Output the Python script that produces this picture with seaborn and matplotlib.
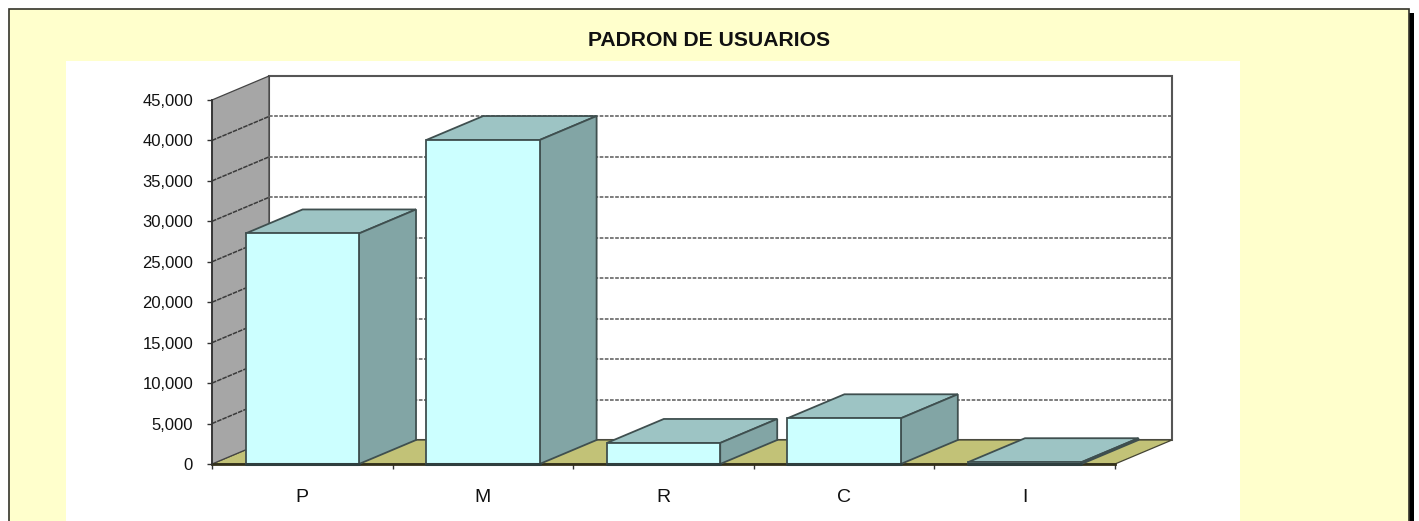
#!/usr/bin/env python3
"""Padron de usuarios: fake 3D column chart, Excel style."""

import matplotlib
matplotlib.use("Agg")
import matplotlib.pyplot as plt
from matplotlib.patches import Polygon, Rectangle
import seaborn as sns

categories = ["P", "M", "R", "C", "I"]
usuarios = [28500, 40050, 2600, 5650, 220]
y_ticks = [0, 5000, 10000, 15000, 20000, 25000, 30000, 35000, 40000, 45000]
title = "PADRON DE USUARIOS"

W, H = 1419, 521
FONT = "Liberation Sans"
EDGE = "#3f4f4f"

sns.set_theme(style="white")
plt.rcParams["font.family"] = FONT

fig = plt.figure(figsize=(W / 100, H / 100), dpi=100, facecolor="white")


def px_rect(x0, y0, x1, y1, **kw):
    """Figure-level rectangle given in image pixels (y going down)."""
    fig.add_artist(Rectangle((x0 / W, 1 - y1 / H), (x1 - x0) / W, (y1 - y0) / H,
                             transform=fig.transFigure, zorder=-5, **kw))


# ---------------------------------------------------------------------------
# Chart area background
# ---------------------------------------------------------------------------
px_rect(13, 13, 1414, H + 5, facecolor="black", edgecolor="none")
px_rect(9, 9, 1409, H + 5, facecolor="#FFFFCC", edgecolor="#33332a", linewidth=1.2)
px_rect(66, 61, 1240, H + 5, facecolor="white", edgecolor="none")

fig.text(709.5 / W, 1 - 40 / H, title, ha="center", va="center",
         fontsize=15.2, fontweight="bold", color="#111111", family=FONT)

# ---------------------------------------------------------------------------
# Front plane = real axes, depth is an offset in data units
# ---------------------------------------------------------------------------
ax = fig.add_axes([212 / W, 1 - 464 / H, (1115 - 212) / W, (464 - 100) / H])
ax.patch.set_alpha(0)

sns.barplot(x=categories, y=usuarios, color="#CCFFFF", saturation=1, width=0.628,
            edgecolor=EDGE, linewidth=1.3, ax=ax, zorder=4)

ax.set_xlim(-0.5, 4.5)
ax.set_ylim(0, 45000)
ax.set_xlabel("")
ax.set_ylabel("")

dx = 57 / ((1115 - 212) / 5)
dy = 24 / (364 / 45000)
x0, x1 = -0.5, 4.5
y_top = y_ticks[-1]


def poly(pts, **kw):
    ax.add_patch(Polygon(pts, closed=True, clip_on=False, **kw))


# Walls and floor
poly([(x0 + dx, dy), (x0 + dx, y_top + dy), (x1 + dx, y_top + dy), (x1 + dx, dy)],
     facecolor="white", edgecolor="#555555", linewidth=1.5, zorder=0.5)
poly([(x0, 0), (x0 + dx, dy), (x1 + dx, dy), (x1, 0)],
     facecolor="#C2C277", edgecolor="#444433", linewidth=0.9, zorder=0.6)
poly([(x0, 0), (x0, y_top), (x0 + dx, y_top + dy), (x0 + dx, dy)],
     facecolor="#A6A6A6", edgecolor="#444444", linewidth=0.9, zorder=0.7)

# Dashed gridlines, back wall and left wall
for t in y_ticks[1:-1]:
    ax.plot([x0 + dx, x1 + dx], [t + dy, t + dy], color="#666666", linewidth=1.2,
            linestyle=(0, (2.2, 0.9)), clip_on=False, zorder=1)
    ax.plot([x0, x0 + dx], [t, t + dy], color="#3a3a3a", linewidth=1.1,
            linestyle=(0, (3, 0.7)), clip_on=False, zorder=1)

# Top and side faces of each column
for bar in ax.patches[:len(categories)]:
    left = bar.get_x()
    right = left + bar.get_width()
    top = bar.get_height()
    poly([(left, top), (left + dx, top + dy), (right + dx, top + dy), (right, top)],
         facecolor="#9DC4C4", edgecolor=EDGE, linewidth=1.3, zorder=3)
    poly([(right, 0), (right, top), (right + dx, top + dy), (right + dx, dy)],
         facecolor="#82A5A5", edgecolor=EDGE, linewidth=1.3, zorder=3)
    # heavier base line along the front edge
    ax.plot([left, right], [0, 0], color="#2f3f3f", linewidth=2.2,
            clip_on=False, zorder=5)

# ---------------------------------------------------------------------------
# Axes, ticks, labels
# ---------------------------------------------------------------------------
for side in ["top", "right"]:
    ax.spines[side].set_visible(False)
ax.spines["left"].set_color("#333333")
ax.spines["left"].set_linewidth(1.3)
ax.spines["left"].set_zorder(6)
ax.spines["bottom"].set_color("#33301a")
ax.spines["bottom"].set_linewidth(2.0)
ax.spines["bottom"].set_zorder(2)

ax.set_yticks(y_ticks)
ax.set_yticklabels([f"{t:,}" for t in y_ticks])
ax.tick_params(axis="y", left=True, length=3.6, width=1.0, color="#333333", pad=10,
               labelsize=12, labelcolor="#111111")
ax.set_xticks([-0.5, 0.5, 1.5, 2.5, 3.5, 4.5], minor=True)
ax.tick_params(axis="x", which="minor", bottom=True, length=3.6, width=1.0, color="#333333")
ax.tick_params(axis="x", which="major", bottom=False, length=0, pad=18,
               labelsize=14, labelcolor="#111111")

fig.savefig("out.png", dpi=100)
plt.close()
